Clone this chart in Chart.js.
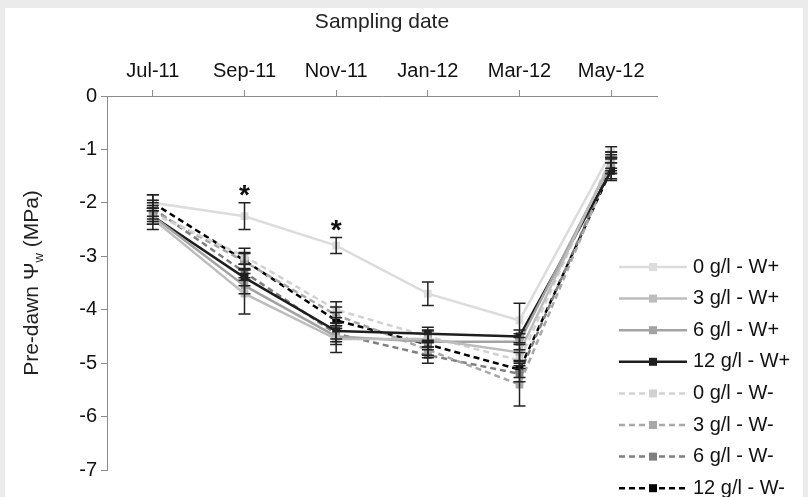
<!DOCTYPE html>
<html>
<head>
<meta charset="utf-8">
<script src="https://cdn.jsdelivr.net/npm/chart.js"></script>
<style>
  html, body { margin: 0; padding: 0; background: #ebebeb; }
  #wrap { position: absolute; left: 5px; top: 8px; width: 798px; height: 489px; background: #fff; }
</style>
</head>
<body>
<div id="wrap"><canvas id="chart"></canvas></div>
<script>
const dates = ['Jul-11', 'Sep-11', 'Nov-11', 'Jan-12', 'Mar-12', 'May-12'];

const seriesNames = ['0 g/l - W+', '3 g/l - W+', '6 g/l - W+', '12 g/l - W+',
                     '0 g/l - W-', '3 g/l - W-', '6 g/l - W-', '12 g/l - W-'];

// pre-dawn water potential (MPa)
const w0p  = [-2.0, -2.25, -2.8, -3.7, -4.2, -1.05];
const w3p  = [-2.3, -3.7, -4.55, -4.55, -4.8, -1.2];
const w6p  = [-2.25, -3.55, -4.5, -4.6, -4.6, -1.25];
const w12p = [-2.25, -3.4, -4.4, -4.45, -4.5, -1.4];
const w0m  = [-2.2, -3.0, -4.0, -4.5, -4.95, -1.15];
const w3m  = [-2.15, -3.1, -4.1, -4.75, -5.4, -1.3];
const w6m  = [-2.1, -3.3, -4.45, -4.85, -5.2, -1.3];
const w12m = [-2.0, -3.08, -4.2, -4.65, -5.12, -1.38];

// error bars (+/-)
const e0p  = [0.15, 0.25, 0.15, 0.22, 0.32, 0.1];
const e3p  = [0.2, 0.38, 0.25, 0.15, 0.15, 0.15];
const e6p  = [0.15, 0.15, 0.15, 0.15, 0.15, 0.15];
const e12p = [0.15, 0.15, 0.15, 0.12, 0.12, 0.15];
const e0m  = [0.15, 0.15, 0.15, 0.12, 0.15, 0.1];
const e3m  = [0.15, 0.15, 0.15, 0.15, 0.4, 0.15];
const e6m  = [0.15, 0.15, 0.15, 0.15, 0.15, 0.15];
const e12m = [0.15, 0.15, 0.15, 0.2, 0.15, 0.2];

const signif = ['', '*', '*', '', '', ''];

const colors = ['#dcdcdc', '#bdbdbd', '#a3a3a3', '#1e1e1e', '#d2d2d2', '#a8a8a8', '#7f7f7f', '#000000'];
const values = [w0p, w3p, w6p, w12p, w0m, w3m, w6m, w12m];
const errors = [e0p, e3p, e6p, e12p, e0m, e3m, e6m, e12m];

const FONT = '"Liberation Sans", Arial, sans-serif';

const datasets = values.map((v, i) => ({
  label: seriesNames[i],
  data: v,
  err: errors[i],
  borderColor: colors[i],
  backgroundColor: colors[i],
  borderWidth: 2.5,
  borderDash: i >= 4 ? [6, 4] : [],
  pointStyle: 'rect',
  pointRadius: 5.5,
  pointBorderWidth: 0,
  tension: 0
}));

const errorBars = {
  id: 'errorBars',
  afterDatasetsDraw(chart) {
    const ctx = chart.ctx;
    const y = chart.scales.y;
    ctx.save();
    ctx.strokeStyle = '#222';
    ctx.lineWidth = 1.5;
    chart.data.datasets.forEach((ds, di) => {
      const meta = chart.getDatasetMeta(di);
      meta.data.forEach((pt, i) => {
        const top = y.getPixelForValue(ds.data[i] + ds.err[i]);
        const bot = y.getPixelForValue(ds.data[i] - ds.err[i]);
        ctx.beginPath();
        ctx.moveTo(pt.x, top); ctx.lineTo(pt.x, bot);
        ctx.moveTo(pt.x - 6, top); ctx.lineTo(pt.x + 6, top);
        ctx.moveTo(pt.x - 6, bot); ctx.lineTo(pt.x + 6, bot);
        ctx.stroke();
      });
    });
    // significance stars above the 0 g/l - W+ series
    ctx.fillStyle = '#111';
    ctx.font = 'bold 28px ' + FONT;
    ctx.textAlign = 'center';
    ctx.textBaseline = 'alphabetic';
    const meta0 = chart.getDatasetMeta(0);
    signif.forEach((s, i) => {
      if (!s) return;
      const top = y.getPixelForValue(w0p[i] + e0p[i]);
      ctx.fillText(s, meta0.data[i].x, top + 1);
    });
    ctx.restore();
  }
};

const extras = {
  id: 'extras',
  afterDraw(chart) {
    const ctx = chart.ctx;
    const area = chart.chartArea;
    ctx.save();
    // x title
    ctx.fillStyle = '#222';
    ctx.font = '21px ' + FONT;
    ctx.textAlign = 'center';
    ctx.textBaseline = 'middle';
    ctx.fillText('Sampling date', (area.left + area.right) / 2, 14);
    // y title with subscript
    ctx.translate(27, (area.top + area.bottom) / 2);
    ctx.rotate(-Math.PI / 2);
    const a = 'Pre-dawn \u03A8', b = 'w', c = ' (MPa)';
    ctx.font = '21px ' + FONT;
    const wa = ctx.measureText(a).width, wc = ctx.measureText(c).width;
    ctx.font = '13px ' + FONT;
    const wb = ctx.measureText(b).width;
    let x = -(wa + wb + wc) / 2;
    ctx.textAlign = 'left';
    ctx.textBaseline = 'middle';
    ctx.font = '21px ' + FONT;
    ctx.fillText(a, x, 0); x += wa;
    ctx.font = '13px ' + FONT;
    ctx.fillText(b, x, 7); x += wb;
    ctx.font = '21px ' + FONT;
    ctx.fillText(c, x, 0);
    ctx.restore();

    // legend
    ctx.save();
    ctx.font = '20px ' + FONT;
    ctx.textBaseline = 'middle';
    chart.data.datasets.forEach((ds, i) => {
      const ly = 259 + i * 31.6;
      ctx.strokeStyle = ds.borderColor;
      ctx.lineWidth = 2.5;
      ctx.setLineDash(ds.borderDash);
      ctx.beginPath();
      ctx.moveTo(614, ly); ctx.lineTo(682, ly);
      ctx.stroke();
      ctx.setLineDash([]);
      ctx.fillStyle = ds.borderColor;
      ctx.fillRect(644, ly - 4, 8, 8);
      ctx.fillStyle = '#111';
      ctx.fillText(ds.label, 688, ly);
    });
    ctx.restore();
  }
};

new Chart(document.getElementById('chart'), {
  type: 'line',
  data: { labels: dates, datasets },
  plugins: [errorBars, extras],
  options: {
    responsive: true,
    maintainAspectRatio: false,
    animation: false,
    layout: { padding: { left: 0, right: 146, top: 0, bottom: 27 } },
    plugins: { legend: { display: false }, tooltip: { enabled: false } },
    scales: {
      x: {
        position: 'top',
        offset: true,
        afterFit(s) { s.height = 88; },
        grid: { offset: false, drawOnChartArea: false, tickLength: 6, color: '#8c8c8c' },
        border: { color: '#8c8c8c' },
        ticks: { color: '#111', padding: 7, maxRotation: 0, font: { family: FONT, size: 20 } }
      },
      y: {
        min: -7,
        max: 0,
        afterFit(s) { s.width = 102; },
        grid: { drawOnChartArea: false, tickLength: 6, color: '#8c8c8c' },
        border: { color: '#8c8c8c' },
        ticks: { stepSize: 1, color: '#111', padding: 4, font: { family: FONT, size: 20 } }
      }
    }
  }
});
</script>
</body>
</html>
